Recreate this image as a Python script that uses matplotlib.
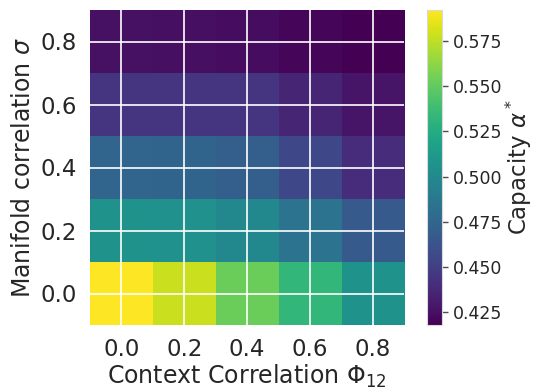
import numpy as np
import matplotlib
matplotlib.use("Agg")
import matplotlib.pyplot as plt
import seaborn as sns

phi = [0.0, 0.2, 0.4, 0.6, 0.8]
sigma = [0.0, 0.2, 0.4, 0.6, 0.8]
# capacity[row = sigma][col = phi]
cap_s00 = [0.592, 0.578, 0.553, 0.533, 0.507]
cap_s02 = [0.507, 0.506, 0.499, 0.484, 0.467]
cap_s04 = [0.475, 0.474, 0.471, 0.456, 0.440]
cap_s06 = [0.445, 0.445, 0.444, 0.436, 0.428]
cap_s08 = [0.426, 0.425, 0.424, 0.421, 0.418]
xticks = [0.0, 0.2, 0.4, 0.6, 0.8]
yticks = [0.0, 0.2, 0.4, 0.6, 0.8]
cbar_ticks = [0.425, 0.450, 0.475, 0.500, 0.525, 0.550, 0.575]

sns.set_theme(style="darkgrid")
plt.rcParams['font.family'] = ['DejaVu Sans']

data = np.array([cap_s00, cap_s02, cap_s04, cap_s06, cap_s08])

fig = plt.figure(figsize=(5.35, 3.9), dpi=100)
ax = fig.add_axes([90/535, 1-325/390, (404-90)/535, (325-10)/390])
cax = fig.add_axes([427/535, 1-325/390, 15/535, (325-10)/390])

im = ax.imshow(data, origin='lower', cmap='viridis', aspect='auto',
               extent=(phi[0]-0.1, phi[-1]+0.1, sigma[0]-0.1, sigma[-1]+0.1),
               interpolation='nearest')
ax.set_xticks(xticks)
ax.set_yticks(yticks)
ax.set_xticklabels([f"{v:.1f}" for v in xticks], fontsize=16.5)
ax.set_yticklabels([f"{v:.1f}" for v in yticks], fontsize=16.5)
ax.set_xlabel(r"Context Correlation $\Phi_{12}$", fontsize=17, labelpad=1)
ax.set_ylabel(r"Manifold correlation $\sigma$", fontsize=17, labelpad=4)
ax.grid(True, color='white', linewidth=1.2)
for s in ax.spines.values():
    s.set_visible(False)

cb = fig.colorbar(im, cax=cax)
cb.set_ticks(cbar_ticks)
cb.ax.tick_params(labelsize=12.5, length=4, width=1, color='0.3', direction='out', left=False, right=True)
cb.set_label(r"Capacity $\alpha^*$", fontsize=16.5, labelpad=1)
cb.outline.set_edgecolor('0.85')
cb.outline.set_linewidth(0.8)
cb.ax.grid(False)

fig.savefig("out.png", dpi=100)
